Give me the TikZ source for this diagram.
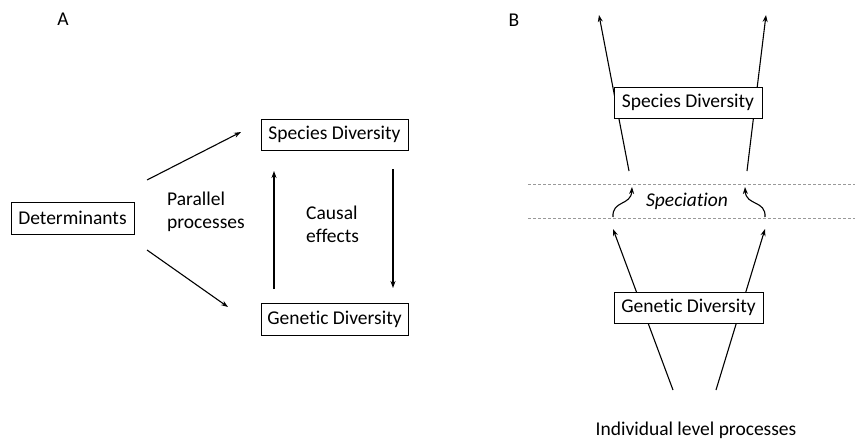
\documentclass[tikz,border=0pt]{standalone}
\usepackage{fontspec}
\setmainfont[Ligatures=NoCommon]{Carlito}
\usetikzlibrary{arrows.meta}
\tikzset{
  box/.style={draw, line width=1pt, fill=white, inner sep=0pt, font=\fontsize{19.5}{23}\selectfont},
  lbl/.style={inner sep=0pt, font=\fontsize{19.5}{23}\selectfont},
  arr/.style={line width=1.1pt, -{Stealth[length=7pt,width=5pt]}},
  sep/.style={draw=gray!80, line width=0.8pt, dash pattern=on 3pt off 2pt}
}
\begin{document}
\begin{tikzpicture}[x=1pt,y=-1pt]
\useasboundingbox (0,0) rectangle (855,439);
% Panel A
\node[lbl] (labA) at (63,19) {A};
\node[box, minimum width=123pt, minimum height=32pt] (det) at (72.5,218) {Determinants};
\node[box, minimum width=147pt, minimum height=31pt] (spA) at (334.5,134.5) {Species Diversity};
\node[box, minimum width=147pt, minimum height=32pt] (geA) at (334.5,319) {Genetic Diversity};
\coordinate (d1) at (147,180);
\coordinate (s1) at (241,132);
\coordinate (d2) at (147,250);
\coordinate (g1) at (228,307);
\draw[arr] (d1) -- (s1);
\draw[arr] (d2) -- (g1);
\coordinate (u0) at (274,289);
\coordinate (u1) at (274,171);
\coordinate (v0) at (393,169);
\coordinate (v1) at (393,288);
\draw[arr] (u0) -- (u1);
\draw[arr] (v0) -- (v1);
\node[lbl, align=left, anchor=west] (par) at (167,212) {Parallel\\processes};
\node[lbl, align=left, anchor=west] (cau) at (306,224) {Causal\\effects};
% Panel B
\node[lbl] (labB) at (514,20) {B};
\draw[sep] (528,184) -- (855,184);
\draw[sep] (528,218) -- (855,218);
\coordinate (a0) at (629,171);
\coordinate (a1) at (599,15);
\coordinate (b0) at (747,171);
\coordinate (b1) at (766,15);
\draw[arr] (a0) -- (a1);
\draw[arr] (b0) -- (b1);
\node[box, minimum width=148pt, minimum height=31pt] (spB) at (688,102.5) {Species Diversity};
\coordinate (c0) at (673,390);
\coordinate (c1) at (613,229);
\coordinate (e0) at (716,390);
\coordinate (e1) at (765,229);
\draw[arr] (c0) -- (c1);
\draw[arr] (e0) -- (e1);
\node[box, minimum width=149pt, minimum height=31pt] (geB) at (688.5,307.5) {Genetic Diversity};
\coordinate (k0) at (613,217);
\coordinate (k1) at (632,187);
\coordinate (m0) at (765,217);
\coordinate (m1) at (745,187);
\draw[arr] (k0) .. controls (612,200) and (631,206) .. (k1);
\draw[arr] (m0) .. controls (766,200) and (746,206) .. (m1);
\node[lbl, font=\fontsize{19.5}{23}\selectfont\itshape] (spec) at (687,201) {Speciation};
\node[lbl] (ind) at (696,430) {Individual level processes};
\end{tikzpicture}
\end{document}
